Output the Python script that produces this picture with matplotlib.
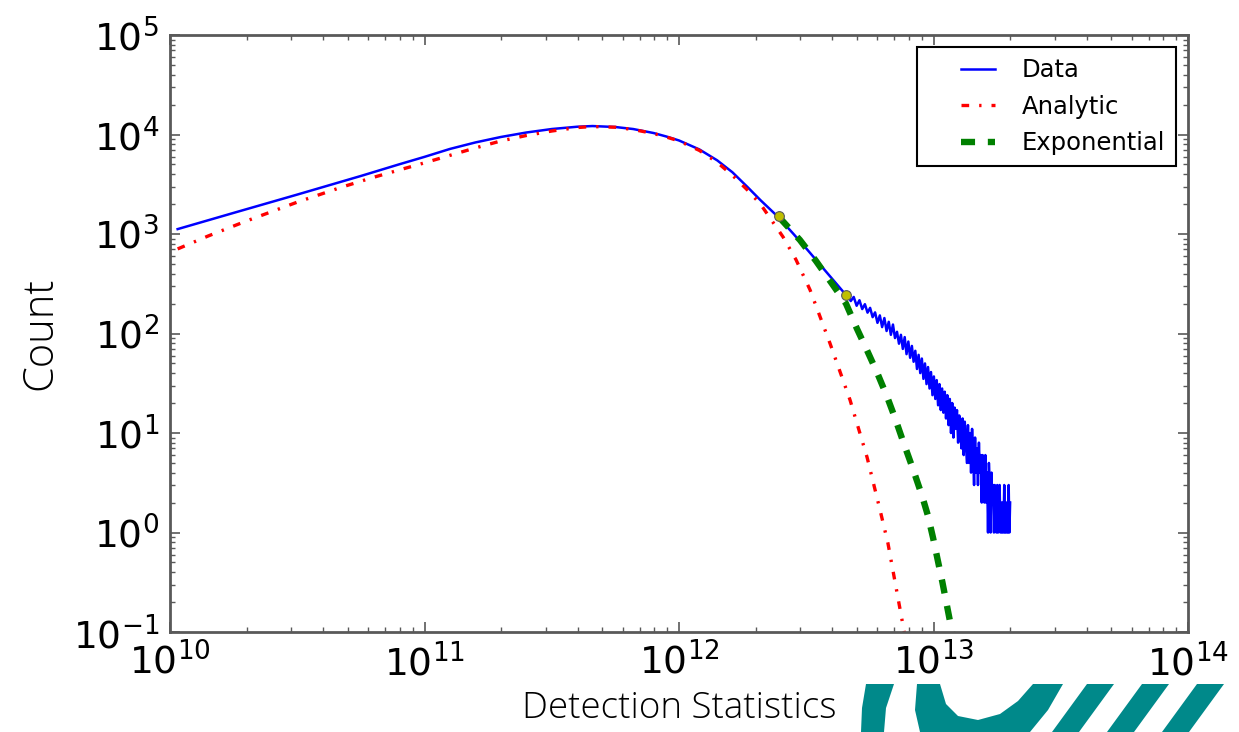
import matplotlib
matplotlib.use("Agg")
import matplotlib.pyplot as plt
from matplotlib.patches import Polygon
from matplotlib.lines import Line2D
from matplotlib.legend_handler import HandlerLine2D
import numpy as np

plt.rcParams["axes.unicode_minus"] = False

# smooth part of the measured distribution (log10 of detection statistic, count)
data_logx = [10.03, 10.25, 10.5, 10.75, 10.9, 11.0, 11.1, 11.2, 11.3, 11.4,
             11.5, 11.6, 11.66, 11.75, 11.82, 11.9, 11.95, 12.0, 12.08, 12.15,
             12.21, 12.27, 12.32, 12.39, 12.45, 12.5, 12.58, 12.656]
data_count = [1120, 1630, 2490, 3830, 5010, 5960, 7160, 8320, 9440, 10470,
              11350, 11970, 12160, 11890, 11350, 10350, 9550, 8710, 7080, 5500,
              4170, 2950, 2190, 1480, 1000, 716, 412, 244]

# noisy tail: linear bins from 4.6e12 to 2.0e13
tail_start = 4.6e12
tail_stop = 2.0e13
tail_count = [241, 212, 233, 190, 216, 176, 197, 162, 181, 146,
              163, 128, 152, 116, 143, 106, 131, 97, 123, 90,
              104, 79, 97, 70, 92, 62, 83, 57, 75, 52,
              67, 44, 61, 40, 56, 35, 50, 31, 46, 28,
              41, 24, 37, 22, 34, 19, 31, 17, 28, 16,
              26, 14, 24, 12, 22, 10, 20, 9, 18, 11,
              17, 8, 15, 10, 7, 14, 6, 13, 8, 5,
              12, 5, 10, 4, 11, 6, 3, 9, 4, 7,
              3, 8, 4, 6, 2, 6, 3, 2, 6, 2,
              4, 1, 5, 3, 1, 4, 2, 3, 1, 3,
              2, 1, 3, 1, 2, 3, 1, 2, 1, 2,
              1, 3, 1, 2, 1, 2, 1, 3, 1, 2]

analytic_logx = [10.03, 10.15, 10.3, 10.5, 10.676, 10.8, 10.9, 11.0, 11.1, 11.2,
                 11.3, 11.4, 11.5, 11.6, 11.66, 11.75, 11.82, 11.9, 11.95, 12.0,
                 12.08, 12.15, 12.21, 12.27, 12.32, 12.409, 12.46, 12.515, 12.593,
                 12.672, 12.739, 12.79, 12.821, 12.885, 12.9]
analytic_count = [708, 955, 1350, 2090, 2965, 3715, 4395, 5190, 6170, 7330,
                  8610, 9770, 10840, 11750, 12020, 11830, 11220, 10230, 9440, 8610,
                  6920, 5250, 3890, 2750, 2000, 933, 550, 274, 80,
                  21.5, 5.7, 1.68, 0.78, 0.1, 0.056]

expo_logx = [12.393, 12.475, 12.538, 12.593, 12.656, 12.699, 12.739, 12.778, 12.817,
             12.849, 12.88, 12.919, 12.955, 12.978, 12.998, 13.035, 13.073, 13.09]
expo_count = [1479, 871, 537, 339, 200, 112, 67.6, 40.7, 23.4,
              14.1, 8.3, 4.37, 2.34, 1.48, 0.89, 0.316, 0.1, 0.056]

fit_x = [2.47e12, 4.53e12]
fit_y = [1500, 244]

W, H = 1239, 732
fig = plt.figure(figsize=(W / 100, H / 100), dpi=100)
ax = fig.add_axes([170 / W, 1 - 632 / H, 1018 / W, 597 / H])

tail_x = np.linspace(tail_start, tail_stop, len(tail_count))
x_all = np.concatenate([10 ** np.array(data_logx), tail_x])
y_all = np.concatenate([data_count, tail_count])

ax.plot(x_all, y_all, color="blue", lw=1.8, label="Data")
ax.plot(10 ** np.array(analytic_logx), analytic_count, color="red", lw=2.4,
        linestyle=(0, (2.3, 3.0, 0.7, 3.0)), label="Analytic")
ax.plot(10 ** np.array(expo_logx), expo_count, color="green", lw=4.6,
        linestyle=(0, (2.2, 2.0)), label="Exponential")
ax.plot(fit_x, fit_y, "o", color="y", markeredgecolor="0.35", markersize=7,
        markeredgewidth=0.8, zorder=5)

ax.set_xscale("log")
ax.set_yscale("log")
ax.set_xlim(1e10, 1e14)
ax.set_ylim(0.1, 1e5)

for s in ax.spines.values():
    s.set_color("0.35")
    s.set_linewidth(2)
ax.tick_params(which="both", direction="in", top=True, right=True, color="0.35")
ax.tick_params(which="major", length=7, width=1.2, labelsize=27, pad=8)
ax.tick_params(which="minor", length=3.5, width=1)

lab_font = dict(family=["Open Sans", "DejaVu Sans"], fontweight="light")
ax.set_ylabel("Count", fontsize=30, labelpad=8, **lab_font)
ax.set_xlabel("Detection Statistics", fontsize=26.5, labelpad=5, **lab_font)

leg = ax.legend(loc="upper right", fontsize=17.5, fancybox=False, framealpha=1,
                edgecolor="black", handlelength=2.76, handletextpad=1.11,
                borderpad=0.45, labelspacing=0.52, borderaxespad=0.5,
                handler_map={Line2D: HandlerLine2D(xpad=1.36)})
leg.get_frame().set_linewidth(1.5)


# teal logo in the lower right corner
def px(points):
    return [(x / W, 1 - y / H) for x, y in points]


teal = "#00898a"
logo = [
    [(866, 684), (894, 684), (886, 708), (884, 732), (861, 732), (862, 708)],
    [(917, 684), (915, 710), (920, 732), (1030, 732), (1048, 710), (1063, 684),
     (1033, 684), (1018, 701), (1000, 714), (978, 720), (958, 716), (946, 704),
     (940, 684)],
]
for left in [1087, 1142, 1197]:
    logo.append([(left, 684), (left + 27, 684), (left - 8, 732), (left - 35, 732)])
for shape in logo:
    fig.add_artist(Polygon(px(shape), closed=True, transform=fig.transFigure,
                           facecolor=teal, edgecolor="none"))

fig.savefig("out.png", dpi=100)
